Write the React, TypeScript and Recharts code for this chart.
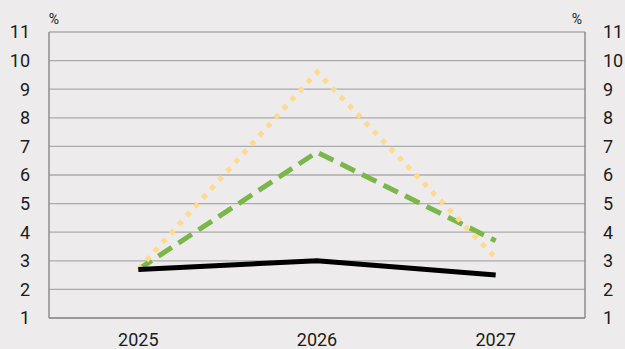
import React from 'react';
import { LineChart, Line, XAxis, YAxis, CartesianGrid } from 'recharts';

const years = ['2025', '2026', '2027'];
const blackSeries = [2.7, 3.0, 2.5];
const greenSeries = [2.7, 6.8, 3.7];
const yellowSeries = [2.7, 9.6, 3.1];
const yTicks = [1, 2, 3, 4, 5, 6, 7, 8, 9, 10, 11];

const data = years.map((year, i) => ({
  x: i,
  black: blackSeries[i],
  green: greenSeries[i],
  yellow: yellowSeries[i],
}));

// small inward ticks sit on the boundaries between years
const boundaryTicks = years.slice(1).map((_, i) => i + 0.5);

const AXIS = '#8e8e8e';
const GRID = '#ababab';
const TEXT = '#1b1b1b';
const FONT = 'Roboto, "Noto Sans", sans-serif';

const tickStyle = { fill: TEXT, fontSize: 18, fontFamily: FONT };

const PercentLeft = (props: any) => {
  const vb = props.viewBox;
  return (
    <text x={vb.x + vb.width + 5} y={vb.y - 8} fill={TEXT} fontSize={14} fontFamily={FONT} textAnchor="middle">
      %
    </text>
  );
};

const PercentRight = (props: any) => {
  const vb = props.viewBox;
  return (
    <text x={vb.x - 8} y={vb.y - 8} fill={TEXT} fontSize={14} fontFamily={FONT} textAnchor="middle">
      %
    </text>
  );
};

export default function App() {
  return (
    <div style={{ position: 'absolute', left: 0, top: 0, width: 625, height: 349, background: '#edebec' }}>
      <LineChart width={625} height={349} data={data} margin={{ top: 32, right: 0, bottom: 0, left: 0 }}>
        <CartesianGrid vertical={false} stroke={GRID} strokeWidth={1.3} />
        <XAxis
          dataKey="x"
          type="number"
          domain={[-0.5, 2.5]}
          ticks={[0, 1, 2]}
          tickFormatter={(v: number) => years[v]}
          height={31}
          tickLine={false}
          tickSize={6}
          tickMargin={9}
          axisLine={{ stroke: AXIS, strokeWidth: 1.5 }}
          tick={tickStyle}
        />
        <XAxis
          xAxisId="mid"
          dataKey="x"
          type="number"
          domain={[-0.5, 2.5]}
          ticks={boundaryTicks}
          mirror
          height={0}
          tick={false}
          axisLine={false}
          tickSize={6}
          tickLine={{ stroke: AXIS, strokeWidth: 1.2 }}
        />
        <YAxis
          domain={[1, 11]}
          ticks={yTicks}
          width={49}
          tickLine={false}
          tickSize={8}
          tickMargin={11}
          axisLine={{ stroke: AXIS, strokeWidth: 1.5 }}
          tick={tickStyle}
          label={<PercentLeft />}
        />
        <YAxis
          yAxisId="r"
          orientation="right"
          domain={[1, 11]}
          ticks={yTicks}
          width={40}
          tickLine={false}
          tickSize={8}
          tickMargin={10}
          axisLine={{ stroke: AXIS, strokeWidth: 1.5 }}
          tick={{ ...tickStyle, textAnchor: 'start' }}
          label={<PercentRight />}
        />
        <Line
          dataKey="green"
          type="linear"
          stroke="#7ab648"
          strokeWidth={5}
          strokeDasharray="16 8"
          dot={false}
          isAnimationActive={false}
        />
        <Line
          dataKey="yellow"
          type="linear"
          stroke="#ffd98c"
          strokeWidth={5}
          strokeDasharray="5 7"
          dot={false}
          isAnimationActive={false}
        />
        {/* both value axes share the same 1–11 scale */}
        <Line
          yAxisId="r"
          dataKey="black"
          type="linear"
          stroke="#000000"
          strokeWidth={5}
          dot={false}
          isAnimationActive={false}
        />
      </LineChart>
    </div>
  );
}
